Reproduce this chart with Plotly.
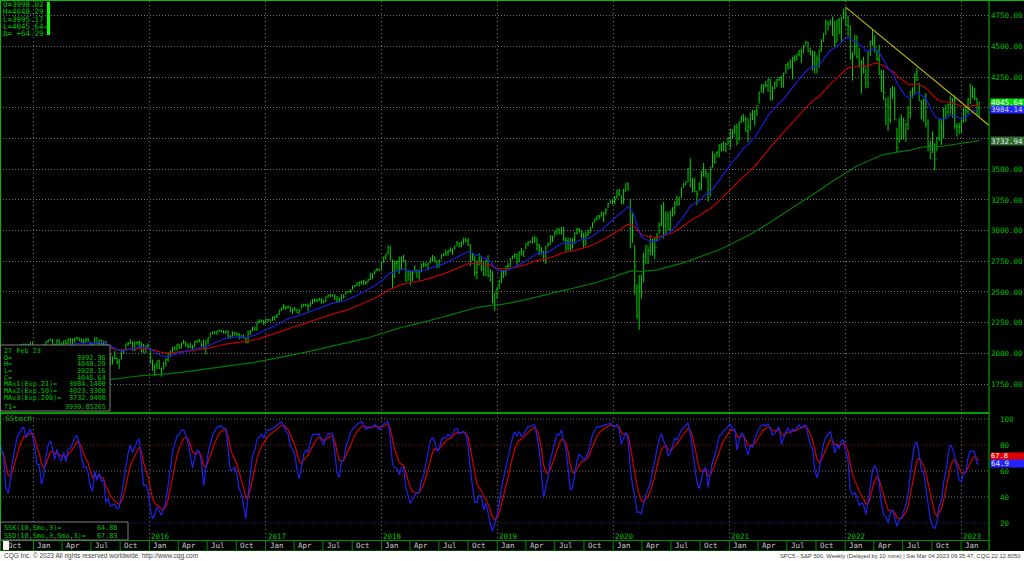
import pandas as pd
import plotly.graph_objects as go

# ---------------- weekly S&P 500 data (week starting Monday) ----------------
close_2014 = [1949,1937,1963,1961,1985,1968,1978,1978,1925,1931,1955,1988,2003,2007,1985,2010,1982,1967,1906,1886,1964,2018,2031,2039,2063,2067,2075,2002,2070,2088,2058]
high_2014 = [1955,1955,1964,1968,1985,1984,1983,1991,1985,1942,1960,1993,2005,2011,2009,2019,2009,1985,1977,1906,1965,2018,2034,2041,2071,2075,2079,2075,2077,2093,2093]
low_2014 = [1915,1930,1930,1944,1958,1952,1955,1965,1916,1904,1928,1955,1990,1995,1984,1978,1965,1926,1905,1820,1886,1939,2002,2026,2035,2062,2049,2002,1972,2067,2046]

close_2015 = [2044,2019,2051,1995,2055,2096,2110,2104,2071,2053,2108,2061,2067,2102,2081,2117,2108,2116,2122,2126,2107,2092,2094,2110,2101,2077,2077,2127,2079,2104,2078,2092,1971,1989,1921,1961,1958,1931,1951,2015,2033,2075,2079,2099,2023,2089,2090,2092,2012,2006,2061,2044]
high_2015 = [2064,2056,2064,2058,2072,2097,2111,2119,2117,2080,2114,2115,2089,2102,2111,2120,2126,2120,2124,2135,2126,2121,2115,2126,2130,2084,2078,2129,2128,2110,2112,2105,2102,1989,1993,1975,2021,1967,1951,2020,2034,2080,2094,2116,2093,2097,2095,2104,2090,2076,2067,2081]
low_2015 = [1993,1988,2005,1989,1981,2041,2086,2103,2067,2039,2048,2045,2048,2057,2073,2079,2072,2067,2085,2115,2099,2086,2072,2084,2097,2056,2044,2080,2077,2063,2067,2052,1971,1867,1903,1910,1952,1909,1872,1951,1996,2019,2062,2075,2022,2019,2070,2042,2010,2005,2006,2043]

close_2016 = [1922,1880,1907,1940,1880,1865,1918,1948,2000,2022,2050,2035,2073,2048,2081,2092,2065,2057,2047,2052,2099,2099,2096,2071,2037,2103,2130,2162,2175,2173,2183,2184,2184,2169,2180,2128,2139,2165,2168,2153,2133,2141,2126,2085,2164,2182,2213,2192,2260,2258,2263,2239]
high_2016 = [2038,1950,1908,1940,1947,1881,1930,1962,2009,2022,2052,2056,2074,2073,2087,2111,2096,2083,2084,2067,2100,2106,2120,2087,2113,2104,2131,2169,2176,2178,2183,2193,2188,2187,2185,2187,2150,2180,2175,2169,2165,2149,2154,2133,2189,2189,2214,2214,2260,2278,2274,2273]
low_2016 = [1918,1857,1812,1872,1872,1810,1872,1891,1931,1969,2010,2023,2022,2034,2039,2080,2053,2039,2043,2025,2053,2085,2089,2050,2032,1992,2074,2131,2154,2155,2148,2177,2172,2160,2160,2127,2119,2139,2145,2142,2114,2124,2119,2083,2084,2151,2183,2187,2187,2248,2257,2233]

close_2017 = [2277,2275,2271,2295,2297,2316,2351,2367,2383,2373,2378,2344,2363,2355,2329,2349,2384,2399,2390,2382,2416,2439,2432,2433,2438,2423,2425,2459,2472,2472,2476,2441,2426,2443,2477,2461,2500,2502,2519,2549,2553,2575,2581,2588,2582,2579,2602,2642,2652,2675,2683,2674]
high_2017 = [2282,2279,2276,2301,2300,2319,2352,2367,2401,2386,2390,2381,2370,2378,2360,2360,2399,2404,2403,2406,2418,2440,2446,2441,2453,2450,2434,2463,2479,2484,2478,2480,2468,2454,2480,2477,2500,2508,2519,2552,2556,2576,2582,2588,2597,2590,2605,2657,2652,2676,2695,2689]
low_2017 = [2245,2254,2258,2265,2267,2288,2313,2345,2356,2354,2365,2335,2322,2344,2328,2322,2365,2378,2382,2344,2382,2403,2415,2418,2427,2405,2407,2416,2455,2458,2462,2437,2417,2418,2429,2447,2474,2496,2489,2520,2541,2547,2544,2566,2557,2557,2578,2598,2605,2646,2672,2673]

close_2018 = [2743,2786,2810,2873,2762,2620,2732,2747,2691,2786,2752,2588,2641,2604,2656,2670,2670,2663,2728,2713,2721,2735,2779,2780,2755,2718,2760,2801,2802,2819,2840,2833,2850,2875,2902,2872,2905,2930,2914,2886,2767,2768,2659,2723,2781,2736,2633,2760,2633,2600,2417,2486,2532]
high_2018 = [2743,2787,2810,2878,2870,2763,2755,2756,2789,2787,2802,2761,2674,2673,2674,2718,2683,2682,2732,2743,2742,2736,2779,2801,2790,2752,2764,2804,2816,2848,2841,2863,2853,2876,2916,2902,2912,2941,2940,2940,2890,2817,2797,2756,2815,2775,2746,2760,2800,2685,2669,2489,2538]
low_2018 = [2683,2735,2763,2808,2760,2533,2617,2675,2647,2682,2743,2585,2594,2553,2586,2660,2612,2594,2663,2701,2707,2676,2735,2753,2742,2691,2699,2770,2790,2795,2795,2825,2802,2850,2877,2864,2864,2886,2903,2874,2710,2755,2628,2604,2717,2670,2631,2633,2621,2583,2409,2346,2443]

close_2019 = [2596,2671,2665,2707,2708,2776,2793,2804,2743,2822,2800,2834,2893,2907,2905,2940,2946,2881,2860,2826,2752,2873,2887,2950,2942,2990,3014,2977,3026,2932,2919,2889,2847,2926,2979,3007,2992,2962,2952,2970,2986,3023,3067,3093,3120,3110,3141,3146,3169,3221,3240,3235]
high_2019 = [2598,2675,2672,2708,2738,2776,2794,2814,2812,2831,2860,2836,2894,2910,2917,2946,2954,2940,2892,2862,2836,2876,2905,2964,2958,2996,3017,3018,3028,3028,2945,2943,2939,2940,2985,3021,3022,3002,2982,2993,3008,3027,3067,3097,3121,3127,3154,3147,3183,3226,3247,3258]
low_2019 = [2524,2571,2613,2631,2681,2704,2764,2775,2723,2743,2800,2785,2849,2873,2898,2896,2900,2836,2801,2805,2750,2728,2870,2883,2906,2952,2966,2973,2969,2914,2822,2840,2834,2853,2891,2969,2985,2938,2856,2874,2952,2981,3023,3066,3084,3091,3115,3070,3124,3183,3223,3212]

close_2020 = [3265,3330,3295,3226,3328,3380,3338,2954,2972,2711,2305,2541,2489,2790,2875,2837,2831,2930,2864,2955,3044,3194,3041,3098,3009,3130,3185,3225,3216,3271,3351,3373,3397,3508,3427,3341,3319,3298,3348,3477,3484,3465,3270,3509,3585,3558,3638,3699,3663,3709,3703,3756]
high_2020 = [3282,3330,3338,3285,3341,3385,3393,3259,3137,2882,2562,2637,2641,2818,2880,2870,2965,2932,2945,2980,3068,3211,3233,3155,3155,3165,3190,3238,3287,3272,3352,3387,3399,3509,3588,3425,3429,3320,3393,3485,3550,3502,3465,3521,3646,3628,3645,3699,3712,3726,3712,3760]
low_2020 = [3214,3263,3280,3214,3214,3315,3328,2855,2901,2478,2280,2192,2447,2579,2728,2727,2799,2798,2767,2910,2969,3038,2936,2966,3004,3001,3115,3128,3200,3204,3269,3356,3370,3396,3350,3310,3313,3209,3323,3329,3440,3430,3234,3280,3512,3544,3594,3594,3645,3648,3636,3703]

close_2021 = [3825,3768,3841,3714,3887,3934,3907,3811,3842,3943,3913,3975,4020,4129,4185,4180,4181,4233,4174,4156,4204,4230,4247,4166,4281,4352,4370,4327,4412,4395,4437,4468,4442,4509,4535,4459,4433,4455,4357,4391,4471,4545,4605,4698,4683,4698,4595,4538,4712,4620,4726,4766]
high_2021 = [3826,3824,3860,3870,3887,3937,3950,3928,3915,3960,3983,3978,4020,4130,4191,4194,4218,4238,4236,4172,4214,4234,4250,4262,4286,4356,4372,4393,4415,4429,4441,4470,4480,4513,4546,4536,4486,4466,4457,4429,4475,4559,4608,4718,4707,4718,4743,4705,4713,4732,4741,4808]
low_2021 = [3663,3749,3784,3694,3730,3880,3884,3804,3723,3817,3901,3853,3934,4034,4124,4118,4166,4128,4057,4062,4152,4168,4216,4165,4165,4279,4310,4321,4233,4372,4385,4420,4367,4444,4513,4457,4427,4305,4278,4279,4329,4453,4537,4595,4630,4672,4585,4495,4532,4600,4531,4724]

close_2022 = [4677,4663,4398,4432,4501,4419,4349,4385,4329,4204,4463,4543,4546,4488,4393,4272,4132,4123,4023,3901,4158,4109,3901,3675,3912,3825,3899,3863,3962,4130,4145,4280,4228,4058,3924,4067,3873,3693,3586,3640,3583,3752,3901,3771,3993,3965,4026,4072,3934,3852,3845,3840]
high_2022 = [4818,4749,4669,4453,4595,4590,4490,4386,4416,4320,4465,4546,4637,4593,4471,4513,4308,4307,4081,4090,4158,4177,4168,3838,3913,3946,3919,3880,4013,4141,4167,4280,4325,4204,4062,4076,4119,3906,3733,3807,3712,3763,3906,3912,4001,4028,4035,4100,4077,4101,3876,3878]
low_2022 = [4662,4582,4395,4222,4434,4401,4327,4115,4279,4158,4161,4424,4506,4450,4381,4267,4129,4063,3859,3811,3875,4074,3900,3637,3715,3741,3742,3721,3819,3913,4080,4107,4218,4057,3907,3887,3838,3647,3584,3631,3492,3647,3730,3698,3751,3906,3937,3946,3918,3828,3764,3784]

close_2023 = [3895,3999,3973,4071,4136,4090,4079,3970,4045.64]
high_2023 = [3906,4003,4016,4079,4195,4176,4163,4080,4048.29]
low_2023 = [3794,3877,3886,3950,4031,4079,4061,3944,3928.16]
last_open = 3992.36

ema_spans = [21, 50, 200]
ema_seeds = [1890, 1830, 1545]

# trend line (from Jan 2022 high to right edge)
trend_dates = ["2022-01-03", "2023-03-30"]
trend_values = [4818, 3858]

# axis ticks / labels (4000 and 3750 are hidden behind last-value boxes in the original)
price_ticks = [1750, 2000, 2250, 2500, 2750, 3000, 3250, 3500, 3750, 4000, 4250, 4500, 4750]
price_ticktext = ["1750.00", "2000.00", "2250.00", "2500.00", "2750.00", "3000.00", "3250.00",
                  "3500.00", "", "", "4250.00", "4500.00", "4750.00"]
stoch_ticks = [20, 40, 60, 80, 100]
month_names = {1: "Jan", 4: "Apr", 7: "Jul", 10: "Oct"}
year_labels = [2016, 2017, 2018, 2019, 2020, 2021, 2022, 2023]

# last-value labels
last_close_txt = "4045.64"
ema21_txt, ema21_val = "3984.14", 3984.14
ema50_val = 4023.33
ema200_txt, ema200_val = "3732.94", 3732.94
ssk_txt, ssk_val = "64.9", 64.88
ssd_txt, ssd_val = "67.8", 67.83

info_rows = [("O=", "3992.36"), ("H=", "4048.29"), ("L=", "3928.16"), ("C=", "4045.64"),
             ("MAx1(Exp.21)=", "3984.1400"), ("MAx2(Exp.50)=", "4023.3300"),
             ("MAx3(Exp.200)=", "3732.9400"), ("T1=", "3939.85265")]
top_rows = ["O=3998.02", "H=4048.29", "L=3995.17", "L=4045.64\u2713", "\u0394= +64.29"]

# ---------------- assemble ----------------
closes = close_2014 + close_2015 + close_2016 + close_2017 + close_2018 + close_2019 + close_2020 + close_2021 + close_2022 + close_2023
highs = high_2014 + high_2015 + high_2016 + high_2017 + high_2018 + high_2019 + high_2020 + high_2021 + high_2022 + high_2023
lows = low_2014 + low_2015 + low_2016 + low_2017 + low_2018 + low_2019 + low_2020 + low_2021 + low_2022 + low_2023
n = min(len(closes), len(highs), len(lows))
closes, highs, lows = closes[:n], highs[:n], lows[:n]
dates = pd.date_range(end="2023-02-27", periods=n, freq="7D")
opens = [closes[0]] + closes[:-1]
opens[-1] = last_open


def ema(vals, span, seed):
    a = 2.0 / (span + 1)
    out, e = [], seed
    for v in vals:
        e = e + a * (v - e)
        out.append(e)
    return out


def smma(vals, p):
    out, s = [], None
    for v in vals:
        if v is None:
            out.append(None)
            continue
        s = v if s is None else (s * (p - 1) + v) / p
        out.append(s)
    return out


emas = [ema(closes, s, sd) for s, sd in zip(ema_spans, ema_seeds)]

raw_k = []
for i in range(n):
    if i < 9:
        raw_k.append(None)
        continue
    hh = max(highs[i - 9:i + 1])
    ll = min(lows[i - 9:i + 1])
    raw_k.append(100.0 * (closes[i] - ll) / (hh - ll) if hh > ll else 50.0)
ssk = smma(raw_k, 3)
ssd = smma(ssk, 3)

# ---------------- figure ----------------
W, H = 1024, 561
def px(x): return x / W
def py(y): return 1 - y / H

GREEN = "#00c000"
BAR = "#00d000"
MONO = "DejaVu Sans Mono"
x_range = ["2014-09-17 12:00", "2023-03-30"]
P_RANGE = [1514, 4870]
P_TOP, P_BOT = 1, 413

def price_to_px(v):
    return P_TOP + (P_RANGE[1] - v) / (P_RANGE[1] - P_RANGE[0]) * (P_BOT - P_TOP)

fig = go.Figure()
fig.add_trace(go.Ohlc(x=dates, open=opens, high=highs, low=lows, close=closes,
                      increasing_line_color=BAR, decreasing_line_color=BAR,
                      line_width=1, tickwidth=0.3, hoverinfo="skip", showlegend=False,
                      xaxis="x", yaxis="y"))
ema_colors = ["#1c1cd8", "#c00000", "#007a00"]
for vals, col in zip(emas[::-1], ema_colors[::-1]):
    fig.add_trace(go.Scatter(x=dates, y=vals, mode="lines", line=dict(color=col, width=1.2),
                             hoverinfo="skip", showlegend=False, xaxis="x", yaxis="y"))
fig.add_trace(go.Scatter(x=trend_dates, y=trend_values, mode="lines",
                         line=dict(color="#b8b800", width=1.2), hoverinfo="skip",
                         showlegend=False, xaxis="x", yaxis="y"))
fig.add_trace(go.Scatter(x=dates, y=ssd, mode="lines", line=dict(color="#d00000", width=1.2),
                         hoverinfo="skip", showlegend=False, xaxis="x2", yaxis="y2"))
fig.add_trace(go.Scatter(x=dates, y=ssk, mode="lines", line=dict(color="#2020f0", width=1.2),
                         hoverinfo="skip", showlegend=False, xaxis="x2", yaxis="y2"))

jan_dates = [pd.Timestamp(f"{y}-01-01") for y in range(2015, 2024)]
quarters = pd.date_range("2014-10-01", "2023-01-01", freq="QS")

xcommon = dict(range=x_range, domain=[0, px(989)], showgrid=True, gridcolor="#707070",
               griddash="1px,3px", gridwidth=1, tickvals=jan_dates, showticklabels=False,
               ticks="", zeroline=False, showline=False, fixedrange=True)
tickfont = dict(family=MONO, size=7.5, color=GREEN)

fig.update_layout(
    width=W, height=H, margin=dict(l=0, r=0, t=0, b=0, autoexpand=False),
    paper_bgcolor="black", plot_bgcolor="black", showlegend=False,
    xaxis=dict(**xcommon, anchor="y", rangeslider=dict(visible=False)),
    xaxis2=dict(**xcommon, anchor="y2", matches="x"),
    yaxis=dict(domain=[py(P_BOT), py(P_TOP)], range=P_RANGE, side="right",
               tickvals=price_ticks, ticktext=price_ticktext, tickfont=tickfont, ticks="", ticklen=0,
               ticklabelstandoff=1, showgrid=True, gridcolor="#707070", griddash="1px,2px",
               zeroline=False, showline=False, anchor="x", fixedrange=True, automargin=False),
    yaxis2=dict(domain=[py(540), py(413)], range=[6.9, 104.6], side="right",
                tickvals=stoch_ticks, tickfont=tickfont, ticks="", ticklen=0, ticklabelstandoff=10,
                showgrid=False, zeroline=False, showline=False, anchor="x2", fixedrange=True,
                automargin=False),
)

shapes = []
# stochastic grid lines
for v, col in [(100, "#707070"), (60, "#707070"), (40, "#707070"), (80, "#901010"), (20, "#2020a0")]:
    shapes.append(dict(type="line", xref="x2 domain", x0=0, x1=1, yref="y2", y0=v, y1=v,
                       line=dict(color=col, width=1, dash="1px,2px"), layer="below"))
# frame lines
shapes += [
    dict(type="line", xref="paper", yref="paper", x0=0, x1=1, y0=py(0.5), y1=py(0.5), line=dict(color=GREEN, width=1)),
    dict(type="line", xref="paper", yref="paper", x0=px(0.5), x1=px(0.5), y0=py(0), y1=py(540), line=dict(color=GREEN, width=1)),
    dict(type="line", xref="paper", yref="paper", x0=px(989), x1=px(989), y0=py(0), y1=py(551), line=dict(color=GREEN, width=1)),
    dict(type="line", xref="paper", yref="paper", x0=0, x1=px(989), y0=py(413), y1=py(413), line=dict(color="#00d000", width=1.5)),
    # bottom month strip
    dict(type="rect", xref="paper", yref="paper", x0=px(0.5), x1=px(989), y0=py(551), y1=py(540.5),
         line=dict(color="#009000", width=1), fillcolor="black"),
    # white footer
    dict(type="rect", xref="paper", yref="paper", x0=0, x1=1, y0=0, y1=py(551), line=dict(width=0), fillcolor="white"),
    # info box
    dict(type="rect", xref="paper", yref="paper", x0=px(0.5), x1=px(110), y0=py(411), y1=py(345),
         line=dict(color="#808080", width=1), fillcolor="black", layer="above"),
    # stoch legend box
    dict(type="rect", xref="paper", yref="paper", x0=px(0.5), x1=px(128), y0=py(540), y1=py(522),
         line=dict(color="#808080", width=1), fillcolor="black", layer="above"),
    # top-left indicator bar
    dict(type="rect", xref="paper", yref="paper", x0=px(47), x1=px(50), y0=py(35), y1=py(2),
         line=dict(width=0), fillcolor="#00ff00", layer="above"),
    # EMA50 last-value marker (mostly covered by the neighbouring labels)
    dict(type="rect", xref="paper", yref="paper", x0=px(990), x1=px(1023),
         y0=py(price_to_px(ema50_val) + 3.5), y1=py(price_to_px(ema50_val) - 3.5),
         line=dict(width=0), fillcolor="#e00000", layer="above"),
]
for q in quarters:
    shapes.append(dict(type="line", xref="x", yref="paper", x0=q, x1=q, y0=py(551), y1=py(540.5),
                       line=dict(color="#009000", width=1)))
shapes.append(dict(type="rect", xref="paper", yref="paper", x0=px(3), x1=px(9), y0=py(550), y1=py(541),
                   line=dict(width=0), fillcolor="white"))

ann = []
def txt(x, y, s, color=GREEN, size=7.5, anchor="left", family=MONO, xref="paper", yref="paper"):
    ann.append(dict(x=x, y=y, xref=xref, yref=yref, text=s, showarrow=False, xanchor=anchor,
                    yanchor="middle", font=dict(family=family, size=size, color=color)))

# month and year labels
for q in quarters:
    ann.append(dict(x=q, y=py(545.5), xref="x", yref="paper", text=month_names[q.month], showarrow=False,
                    xanchor="left", xshift=2, yanchor="middle", font=dict(family=MONO, size=7.5, color="#d0d0d0")))
for yr in year_labels:
    ann.append(dict(x=pd.Timestamp(f"{yr}-01-01"), y=py(536), xref="x", yref="paper", text=str(yr),
                    showarrow=False, xanchor="left", xshift=0, yanchor="middle",
                    font=dict(family=MONO, size=7.5, color=GREEN)))

# top-left readout
for i, s in enumerate(top_rows):
    txt(px(1), py(4.5 + i * 7.3), s)

# info box
txt(px(2), py(351), "27 Feb 23", size=6.8)
for i, (lab, val) in enumerate(info_rows):
    yy = [357.5, 364.2, 371, 377.6, 384.4, 391.1, 398.2, 406.5][i]
    txt(px(2), py(yy), lab, size=6.8)
    txt(px(108), py(yy), val, size=6.8, anchor="right")

# stochastic labels
txt(px(3), py(418.5), "SStoch", size=7.5)
txt(px(2), py(528.3), "SSK(10,Smo,3)=", size=6.8)
txt(px(119), py(528.3), "64.88", size=6.8, anchor="right")
txt(px(2), py(535.8), "SSD(10,Smo,3,Smo,3)=", size=6.8)
txt(px(119), py(535.8), "67.83", size=6.8, anchor="right")

# last-value boxes
def box(yval, yref, s, bg, fg, h=7, yshift=0, size=7.5):
    ann.append(dict(x=px(990), y=yval, xref="paper", yref=yref, text=s, showarrow=False,
                    xanchor="left", yanchor="middle", align="left", width=33, height=h,
                    borderpad=0, bgcolor=bg, yshift=yshift, font=dict(family=MONO, size=size, color=fg)))

box(closes[-1], "y", last_close_txt, "#00d800", "#f0fff0")
box(ema21_val, "y", ema21_txt, "#2424ff", "#c8d4ff")
box(ema200_val, "y", ema200_txt, "#2f6b2f", "#e8e8e8", h=8)
box(ssd_val, "y2", ssd_txt, "#e00000", "#ffffff", h=6.5, yshift=4.6, size=7)
box(ssk_val, "y2", ssk_txt, "#2424ff", "#e0e8ff", h=7, yshift=1.6)

# footer
txt(px(2), py(556), "CQG Inc. \u00a9 2023 All rights reserved worldwide. http://www.cqg.com",
    color="#404040", size=6.5, family="Liberation Sans")
txt(px(1022), py(556), "SPC5 - S&amp;P 500, Weekly (Delayed by 10 mins) | Sat Mar 04 2023 09:35:47, CQG 22.12.8050",
    color="#404040", size=5.8, family="Liberation Sans", anchor="right")

fig.update_layout(shapes=shapes, annotations=ann)
fig.write_html("out.html", config={"displayModeBar": False},
               post_script="document.body.style.margin='0';document.body.style.overflow='hidden';")
